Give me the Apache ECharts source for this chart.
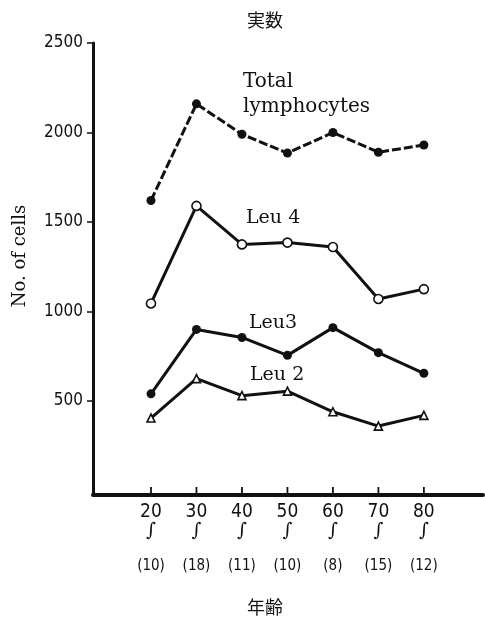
<!DOCTYPE html>
<html>
<head>
<meta charset="utf-8">
<style>
  html, body { margin: 0; padding: 0; background: #fff; }
  #chart { width: 485px; height: 622px; }
</style>
<script src="https://cdn.jsdelivr.net/npm/echarts@6/dist/echarts.min.js"></script>
</head>
<body>
<div id="chart"></div>
<script>
// Age groups (decade) and number of subjects in each group
const ages = [20, 30, 40, 50, 60, 70, 80];
const counts = [10, 18, 11, 10, 8, 15, 12];

// Absolute cell counts per age group
const totalLymphocytes = [1620, 2160, 1990, 1885, 2000, 1890, 1930];
const leu4 = [1045, 1590, 1375, 1385, 1360, 1070, 1125];
const leu3 = [540, 900, 855, 755, 910, 770, 655];
const leu2 = [405, 625, 530, 555, 440, 360, 420];

// Y-axis tick values
const yTicks = [500, 1000, 1500, 2000, 2500];

const Y_MIN = -25;

const NUM_FONT = '"DejaVu Sans Condensed", "Liberation Sans Narrow", "DejaVu Sans", sans-serif';
const SERIF = '"DejaVu Serif", "Liberation Serif", serif';
const CJK = '"Noto Sans CJK JP", sans-serif';

const pairs = vals => ages.map((a, i) => [a, vals[i]]);

const chart = echarts.init(document.getElementById('chart'), null, { renderer: 'canvas' });

const baseLine = (name, vals, symbol, filled, dashed) => ({
  name,
  type: 'line',
  data: pairs(vals),
  symbol,
  symbolSize: symbol === 'triangle' ? 8 : 9,
  showSymbol: true,
  itemStyle: {
    color: filled ? '#111' : '#fff',
    borderColor: '#111',
    borderWidth: filled ? 0 : 1.6
  },
  lineStyle: {
    color: '#111',
    width: 3,
    type: dashed ? [9, 3] : 'solid'
  },
  emphasis: { disabled: true },
  z: 3
});

const staticText = [
  { type: 'text', left: 247, top: 11, style: { text: '実数', font: '18px ' + CJK, fill: '#111' } },
  { type: 'text', x: 20, y: 256, rotation: Math.PI / 2,
    style: { text: 'No. of cells', font: '18px ' + SERIF, fill: '#111', align: 'center', verticalAlign: 'middle' } },
  { type: 'text', left: 243, top: 69,
    style: { text: 'Total\nlymphocytes', font: '20px ' + SERIF, lineHeight: 25, fill: '#111' } },
  { type: 'text', left: 246, top: 209, style: { text: 'Leu 4', font: '19px ' + SERIF, fill: '#111' } },
  { type: 'text', left: 249, top: 314, style: { text: 'Leu3', font: '19px ' + SERIF, fill: '#111' } },
  { type: 'text', left: 250, top: 366, style: { text: 'Leu 2', font: '19px ' + SERIF, fill: '#111' } },
  { type: 'text', left: 247, top: 598, style: { text: '年齢', font: '18px ' + CJK, fill: '#111' } }
];

chart.setOption({
  animation: false,
  backgroundColor: '#fff',
  grid: { left: 93, right: 2, top: 43, bottom: 127, containLabel: false },
  xAxis: {
    type: 'value',
    min: 7.25,
    max: 93,
    axisLine: { show: true, onZero: false, lineStyle: { color: '#111', width: 4 } },
    splitLine: { show: false },
    axisTick: { show: false },
    axisLabel: {
      show: true,
      customValues: ages,
      margin: 8,
      formatter: v => {
        const i = ages.indexOf(v);
        return '{a|' + v + '}\n{b|∫}\n{c|(' + counts[i] + ')}';
      },
      rich: {
        a: { fontFamily: NUM_FONT, fontSize: 19, color: '#111', lineHeight: 18 },
        b: { fontFamily: '"DejaVu Serif", serif', fontSize: 19, color: '#111', lineHeight: 21 },
        c: { fontFamily: NUM_FONT, fontSize: 15, color: '#111', lineHeight: 49 }
      }
    }
  },
  yAxis: {
    type: 'value',
    min: Y_MIN,
    max: 2500,
    axisLine: { show: true, onZero: false, lineStyle: { color: '#111', width: 3 } },
    splitLine: { show: false },
    axisTick: { show: true, length: 6, customValues: yTicks, lineStyle: { color: '#111', width: 1.5 } },
    axisLabel: {
      margin: 10,
      customValues: yTicks,
      fontFamily: NUM_FONT,
      fontSize: 17,
      color: '#111',
      formatter: v => String(v)
    }
  },
  series: [
    baseLine('Total lymphocytes', totalLymphocytes, 'circle', true, true),
    baseLine('Leu 4', leu4, 'circle', false, false),
    baseLine('Leu3', leu3, 'circle', true, false),
    baseLine('Leu2', leu2, 'triangle', false, false)
  ],
  graphic: staticText
});

// Upward tick marks on the age axis, positioned through the axis scale
const ageTickMarks = ages.map(a => {
  const p = chart.convertToPixel({ gridIndex: 0 }, [a, Y_MIN]);
  return {
    type: 'line',
    silent: true,
    z: 10,
    shape: { x1: p[0], y1: p[1], x2: p[0], y2: p[1] - 8 },
    style: { stroke: '#111', lineWidth: 1.8 }
  };
});
chart.setOption({ graphic: staticText.concat(ageTickMarks) });
</script>
</body>
</html>
